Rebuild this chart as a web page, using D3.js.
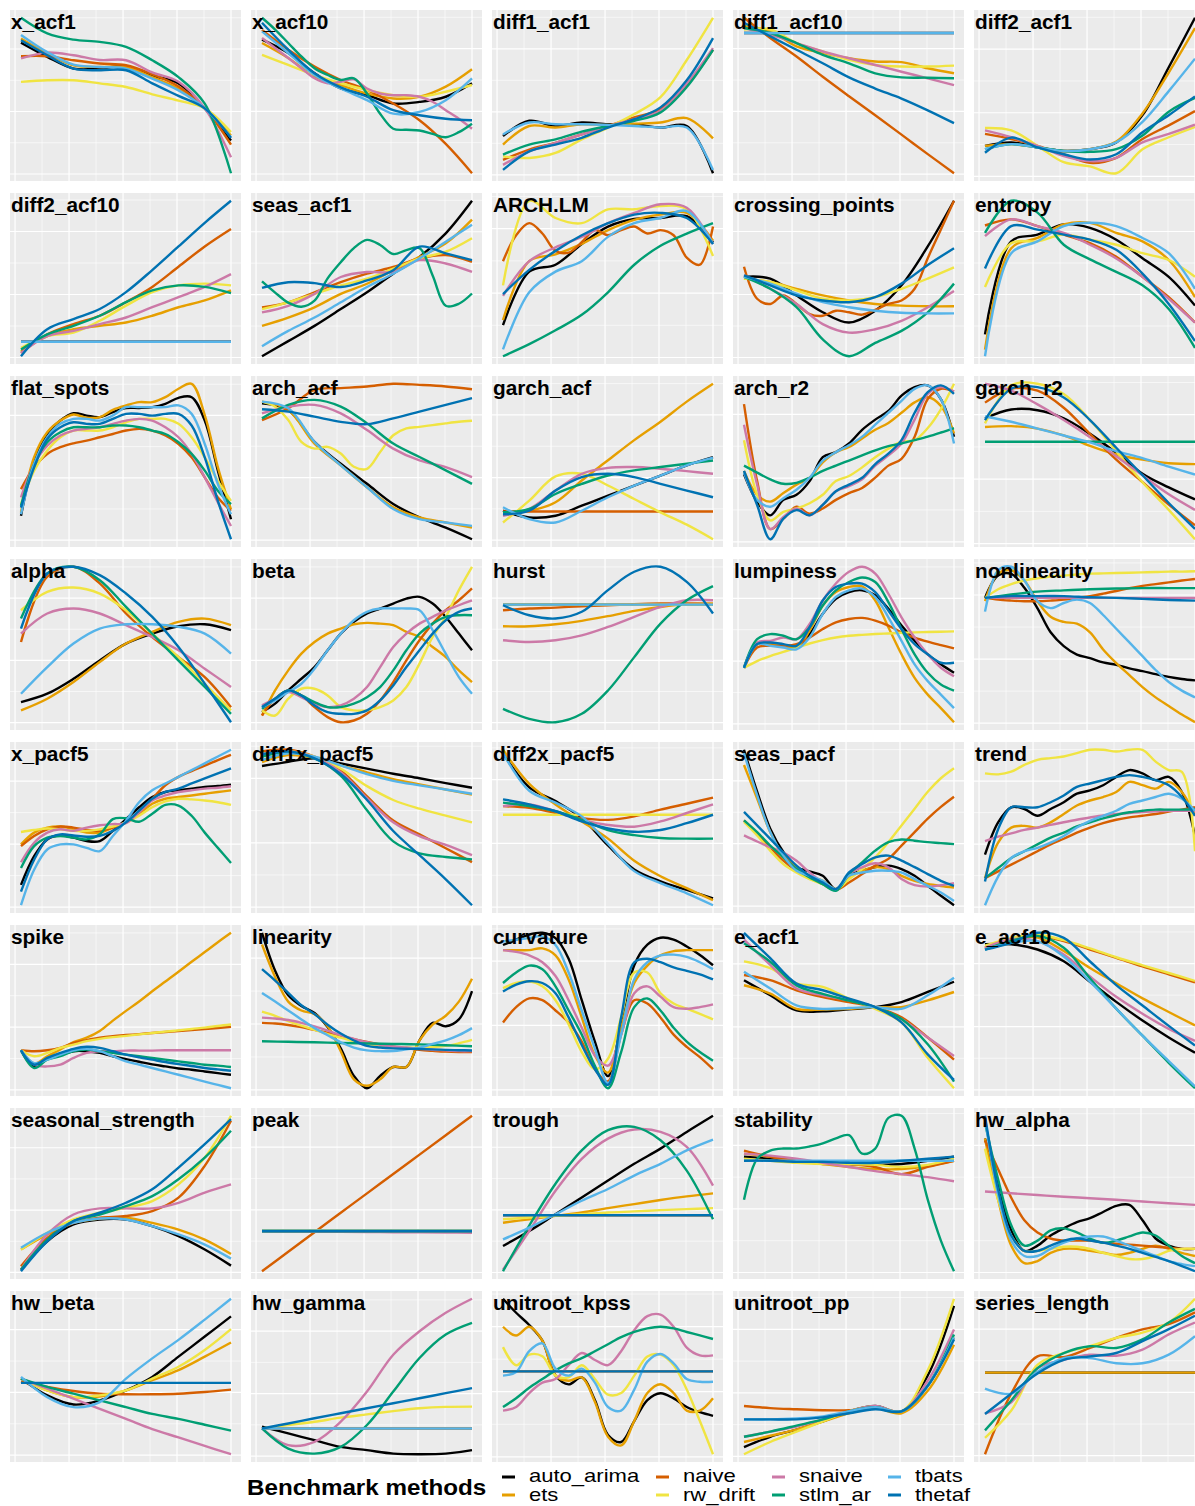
<!DOCTYPE html>
<html><head><meta charset="utf-8">
<script src="https://cdn.jsdelivr.net/npm/d3@7"></script>
<style>body{margin:0;background:#fff}svg{display:block}</style>
</head><body>
<script>
const methods = ["auto_arima","ets","naive","rw_drift","snaive","stlm_ar","tbats","thetaf"];
const colors = ["#000000","#E69F00","#D55E00","#F0E442","#CC79A7","#009E73","#56B4E9","#0072B2"];
const xTicks = [0,1,2,3,4,5,6,7,8];
const xStart = 0.22, xEnd = 8;

const x_acf1 = {
auto_arima:[84,75,67.5,67.5,69,63,58,42,21.4],
ets:[86.7,77,69.6,68.5,68.5,62,54.6,42,24.6],
naive:[75.4,75.4,72.8,70.7,69.6,63.8,56,42,18.8],
rw_drift:[59,60,60,58,55.7,51,47,42,26.8],
snaive:[74,77.7,76,73,72.8,65,59,42,10.7],
stlm_ar:[100,90,86,84.6,81.4,72.8,62,45,0.5],
tbats:[89,78,70,68.5,67.5,61,53.5,42,23.5],
thetaf:[85.6,76,67.5,66.4,66.4,58,50,42,23]};
const x_acf10 = {
auto_arima:[85.7,77.2,64.3,54.6,50.3,45,46,49.3,57.9],
ets:[83.6,74,62.2,56.7,51.4,48.2,49.3,55.8,66.9],
naive:[92,79.3,68.6,60,53.6,45,34.3,19.2,0.5],
rw_drift:[76,69.6,63.2,57.9,53.6,50.3,49.3,52.5,56.8],
snaive:[86.8,80.4,74,67.5,61.1,57.9,58.9,60.4,54.6,51.4,50.3,50.3,49.3,46.1,40.7,35.3,28.9],
stlm_ar:[99.7,92.2,83.6,75,67.5,63.2,60,61.1,51.4,38.5,28.9,28.2,27.8,25.6,23.5,26.7,32.1],
tbats:[91,77.2,63.2,54.6,47.1,38.5,39.6,47.1,61],
thetaf:[96.5,79.3,64.3,55.3,49.3,40.7,37.5,35.3,34.3]};
const diff1_acf1 = {
auto_arima:[24.6,34.3,31,33.2,32.1,32.1,30,31,1],
ets:[19.2,31,30,32.1,31.6,32.5,33.2,36,23.1],
naive:[9.5,16,20.3,25.7,31,36.4,41.8,56.8,79.3],
rw_drift:[11.7,10.7,13.9,22.5,30,38.5,49.3,72.9,99.7],
snaive:[6.3,14.9,20.3,25.7,31,35.3,40.7,57.9,80.4],
stlm_ar:[12.8,19.2,22.5,27.4,31,34.3,39.6,55.7,79.3],
tbats:[25.6,33.2,32.1,32.1,31.7,31,30,30,3.1],
thetaf:[3.1,14.9,19.2,23.5,30,35.3,42.8,60,86.8]};
const diff1_acf10 = {
auto_arima:[90,90,90,90,90,90,90,90,90],
ets:[94.3,91.1,81.5,77.2,73.9,71.8,71.4,67.5,64.3],
naive:[99.7,86.8,75,62.1,49.7,37.5,25.2,12.8,0.6],
rw_drift:[92.2,92.2,83.6,78.2,72.9,69.6,68.6,68.6,69.2],
snaive:[93.2,89,83.6,78.2,73.9,69.6,65.3,61.1,56.8],
stlm_ar:[93.2,90,83.6,76.1,70.7,64.3,61.7,61.5,61.1],
tbats:[90,90,90,90,90,90,90,90,90],
thetaf:[96.5,87.9,79.3,70.7,61.7,54.6,48.2,40.7,32.5]};
const diff2_acf1 = {
auto_arima:[19.2,21.4,18.2,16,17.1,21.4,38.5,68.6,99.7],
ets:[19.2,20.3,18.2,16,17.1,21.9,39.6,65.3,93.2],
naive:[26.7,23.5,19.2,13.9,8.5,11.7,23.5,32.1,41.1],
rw_drift:[30.4,28.9,19.2,8.9,6.3,2,17.1,24.6,31],
snaive:[28.9,24.6,19.2,12.8,9.6,11.7,21.4,26.7,32.5],
stlm_ar:[17.1,20.3,18.2,16,15.4,17.1,25.7,40.7,49.3],
tbats:[17.1,20.3,18.2,16,17.1,21.4,34.3,53.6,74],
thetaf:[14.9,24.4,18.2,13.9,10.6,13.9,27.8,38.5,50.3]};
const diff2_acf10 = {
auto_arima:[10,10,10,10,10,10,10,10,10],
ets:[4,13.6,17.9,20.1,22.2,26.5,31.9,36.2,42.6],
naive:[2.9,14.7,21.2,26.5,35.1,44.8,57.6,70.5,81.6],
rw_drift:[6.1,13.6,15.8,23.3,32.9,41.5,45.8,46.9,45.8],
snaive:[2.9,13.6,16.9,21.2,25.4,31.9,38.3,44.8,52.9],
stlm_ar:[5.1,14.7,20.1,26.5,35.1,42.6,45.8,44.8,40.9],
tbats:[10,10,10,10,10,10,10,10,10],
thetaf:[0.8,17.9,24.4,30.8,41.5,55.5,70.5,85.5,99.5]};
const seas_acf1 = {
auto_arima:[0.8,10.4,20.1,30.8,41.5,53.3,64,79,99.7],
ets:[20.1,25.4,31.9,40.5,46.9,55.5,64,72.6,87.7],
naive:[31.9,35.1,41.5,47.9,53.3,57.6,63,65.1,60.8],
rw_drift:[30.8,35.1,40.5,45.8,50.1,56.5,63,67.3,75.9],
snaive:[28.7,32.9,40.5,51.2,54.4,54.4,61.9,59.8,54.4],
stlm_ar:[48.4,41.3,34.9,32.3,36.2,50.3,60.6,69.6,74.8,71.6,65.8,68.3,69.6,52.2,32.9,34.2,40.7],
tbats:[7.2,16.9,25.4,35.1,44.8,53.3,63,73.7,84.5],
thetaf:[44.3,47.9,47.3,44.8,49,55.5,70.5,66.2,61.9]};
const ARCH_LM = {
auto_arima:[20.1,53.3,57.6,70.5,81.3,86,86.6,87.7,71.6],
ets:[23.3,59.8,64,70.5,79.1,85.5,88.7,89.8,72.6],
naive:[59.8,75.9,83.4,77,66.2,65.1,71.6,79.1,75.9,79.1,81.3,77,79.1,75.9,62,57.6,81.3],
rw_drift:[44.8,97.3,86.6,83.4,92,92,94.1,92,63],
snaive:[38.3,59.8,68.4,74.8,83.4,89.8,95.1,93,70.5],
stlm_ar:[0.8,8.3,16.9,26.5,40.5,57.6,69.4,76.9,83.4],
tbats:[5,40.5,53.3,59.8,74.9,83.4,86.6,90.9,70.5],
thetaf:[39.4,54.4,66.2,75.9,83.4,88.7,89.8,86.6,70.5]};
const crossing_points = {
auto_arima:[51.2,50.1,39.4,28.7,22.2,29.7,45.8,70.5,99.5],
ets:[50.1,47.9,43.6,39.4,36.2,34,32.9,32.5,32.5],
naive:[57.6,37.3,34,39.4,34,27.6,26.5,29.7,28.7,27.2,30.2,34,36.2,43.6,63,81.2,99.5],
rw_drift:[50.1,47.9,42.6,37.3,36.2,38.3,43.6,50.1,57.2],
snaive:[52.2,43.6,34,21.2,15.8,17.9,23.3,31.9,42.2],
stlm_ar:[51.2,43.6,31.9,11.5,0.8,9.3,16.9,28.7,46.9],
tbats:[51.2,46.9,40.5,35.1,31.9,29.7,28.4,28,28],
thetaf:[52.2,45.8,39.4,36.2,35.1,38.3,46.9,58.7,69.4]};
const entropy = {
auto_arima:[14.7,73.7,78,84.5,82.3,74.8,63,51.2,33],
ets:[5,69.4,75.9,84.5,85.5,79.1,73.7,61.9,38.3],
naive:[83.8,87.7,83.4,78,72.6,64,51.2,38.3,22.2],
rw_drift:[44.8,72.6,73.7,78,74.8,71.6,66.2,61.9,51.2],
snaive:[77,87.7,83.4,79.1,71.6,62.9,51.2,37.3,22.2],
stlm_ar:[79.1,99.5,92,71.6,62.3,54.4,45.8,30.8,6.1],
tbats:[0.8,66.2,73.7,83.4,85.5,83.4,75.9,66.2,43.6],
thetaf:[56.5,83.4,81.2,78,74.8,68.4,53.3,34,10.4]};
const flat_spots = {
auto_arima:[15.6,51,68.1,76.7,81.4,79.9,78.9,82.1,84.8,84.8,85.3,87.4,91.3,91.7,76.7,44.6,13.4],
ets:[17.8,53.2,69.2,76.7,80.6,78.5,78.9,83.6,86.4,88.5,88.5,91.7,97.1,100.3,80.2,46.7,19.7],
naive:[32.7,46.7,55.3,59.6,62.1,63.8,66,68.1,70.3,71.4,70.3,67.1,61.7,53.1,40.3,27.4,18.8],
rw_drift:[23.1,44.6,57.5,66,70.3,70.3,70.3,72.4,75.6,77.8,77.8,77.8,74.6,66,53.1,38.1,25.2],
snaive:[27.4,48.8,60.6,67.1,70.3,71.4,72.4,74.6,76.7,77.8,76.7,72.4,66,55.3,40.3,24.2,9.1],
stlm_ar:[22,48.8,62.8,69.2,72.4,72.4,72.4,73.5,73.5,72.4,70.3,68.1,62.8,55.3,44.6,31.7,23.1],
tbats:[16.6,48.8,66,74.6,77.8,77.8,76.7,80,85.3,85.3,85.3,85.3,86.4,81,61.7,36,16.6],
thetaf:[20.9,46.7,64.9,72.4,75.6,74.6,74.6,77.8,81,81,79.9,81,81,73.5,53.1,25.2,0.6]};
const arch_acf = {
auto_arima:[87.4,83.1,62.8,48.8,36,23.1,14.5,8,0.6],
ets:[88.5,83.1,61.7,47.8,33.8,21,14.5,11.3,8],
naive:[76.7,84.3,96,97.1,98.2,99.9,99.2,98.2,96.4],
rw_drift:[88.5,85.3,76.7,62.8,58.5,59.6,55.3,46.9,45.6,56.3,67,71.4,72.4,73.5,74.6,75.6,76.3],
snaive:[81,85.3,86.4,81,70.3,58.5,50.9,46.7,40.3],
stlm_ar:[77.8,86.4,89.6,85.3,74.6,61.7,53.1,44.6,36],
tbats:[88.5,84.2,62.8,47.8,33.8,19.9,13.4,11.3,9.1],
thetaf:[83.6,82.1,78.9,75.6,74.1,77.8,82.1,86.4,90.7]};
const garch_acf = {
auto_arima:[18.8,14.5,15.6,22,28.4,34.9,41.3,47.8,53.1],
ets:[17.8,18.8,24.2,38.1,51,63.9,75.7,88.5,99.9],
naive:[18.3,18.3,18.3,18.3,18.3,18.3,18.3,18.3,18.3],
rw_drift:[11.3,25.2,40.7,42.4,34.9,26.3,17.8,9.9,0.6],
snaive:[15.6,19.9,31.7,42.4,46.2,46.7,45.6,44.1,42.4],
stlm_ar:[17.8,19.9,29.5,35.9,41.3,44.6,46.7,48.8,50.9],
tbats:[21,13.4,11.3,18.8,27.4,34.9,41.3,47.8,52.7],
thetaf:[16.6,18.8,31.7,40.3,42.4,40.3,36,31.7,27.4]};
const arch_r2 = {
auto_arima:[42.4,25.2,16.6,26.3,29.5,38.1,53.1,56.3,61.7,70.3,76.7,82.1,91.7,97.1,98.2,89.6,65.9],
ets:[44.5,29.5,25.2,30.6,35.9,40.2,49.9,56.3,59.5,64.9,70.3,74.6,81,87.5,90.7,85.3,68.1],
naive:[86.4,38.1,8,14.5,22,17.7,20.9,26.3,30.6,33.8,40.3,47.8,52.1,66,89.6,96.1,94.3],
rw_drift:[63.8,29.5,13.4,18.8,20.9,24.2,29.5,38.1,41.3,46.7,53.1,58.5,62.8,63.8,71.4,83.2,99.2],
snaive:[73.5,35.9,8,15.6,20.9,16.6,23.1,31.7,34.9,39.2,47.8,54.2,61.7,76.7,92.8,97.1,94.3],
stlm_ar:[47.8,43.4,39.2,36.4,37,40.2,44.5,47.8,51,54.2,57.4,60,61.7,63.8,66,68.6,71.4],
tbats:[43.4,26.3,22,27.4,32.7,40.2,50.9,56.3,60.6,66,73.5,81,88.5,96,98.2,89.6,61.7],
thetaf:[44.5,23.1,1.6,14.5,19.9,16.6,23.1,31.7,35.9,40.2,48.8,55.3,63.8,81,93.9,98.2,92.8]};
const garch_r2 = {
auto_arima:[77.8,83.2,82.8,77.8,68.1,56.3,43.4,34.9,27.4],
ets:[72.4,72.9,71.4,67.1,60.6,55.3,52.1,49.9,49.3],
naive:[87.5,96.1,94.9,84.3,68.1,52.1,38.1,24.2,11.3],
rw_drift:[74.6,98.2,99.2,92.8,76.7,57.4,38.1,20.9,2.7],
snaive:[99.2,94.9,86.4,76.7,66,54.2,42.4,30.6,20.9],
stlm_ar:[63.2,63.2,63.2,63.2,63.2,63.2,63.2,63.2,63.2],
tbats:[78.9,75.6,71.4,67.1,62.8,57.4,53.1,47.8,42.8],
thetaf:[76.7,96.1,97.1,90.7,76.7,59.5,42.4,25.2,9.1]};
const alpha = {
auto_arima:[13.2,18.6,28.2,40,50.8,57.2,61.9,63.2,59.4],
ets:[7.9,15.4,26.1,39,50.8,58.3,64.7,66.8,62.6],
naive:[51.8,93.7,100.1,89.4,70.1,55,42.1,29.2,9.9],
rw_drift:[72.2,84,86.8,82.9,72.2,57.1,42.1,25,7.9],
snaive:[57.2,70.1,73.3,70.1,62.6,55,46.5,34.7,22.9],
stlm_ar:[66.9,95.8,100.1,91.5,74.3,57.1,39.9,22.9,5.7],
tbats:[18.6,35.7,50.8,60.4,63.2,63.2,61.5,57.2,44.3],
thetaf:[60.4,95.8,100.1,94.7,82.9,67.9,48.6,25,0.3]};
const beta = {
auto_arima:[6.8,12.2,20.7,28.2,35.7,46.5,57.2,64.7,70.1,73.3,76.5,79.7,80.8,76.5,67.9,57.2,46.5],
ets:[4.6,20.7,33.6,44.3,51.8,57.2,60.4,63.2,64.1,63.6,62.6,58.3,55,48.6,42.1,33.6,26.1],
naive:[4.6,15.4,20.7,17.5,10,3.6,0.3,1.4,5.7,14.3,26.1,40,52.9,63.6,72.2,78.6,86.2],
rw_drift:[7.9,4.6,15.4,21.8,21.8,17.5,10,7.9,7.9,10,14.3,22.9,37.9,55,67.9,85.1,100.1],
snaive:[11.1,15.4,19.7,16.4,12.2,10,11.1,15.4,22.9,35.7,48.6,57.2,63.6,67.9,72.2,75.4,78.6],
stlm_ar:[8.9,15.4,20.7,17.5,13.2,10,10,12.2,16.4,22.9,33.6,46.5,57.2,63.6,67.9,69,69],
tbats:[10,14.3,19.7,25,34.6,46.5,57.2,65.8,71.2,73.3,73.3,73.3,72.2,59.4,44.3,29.3,18.6],
thetaf:[10,15.4,20.7,17.5,11.1,6.8,5.7,5.7,7.9,14.3,23.9,35.7,46.5,57.2,65.8,71.2,73.3]};
const hurst = {
auto_arima:[75.8,75.8,75.8,75.8,75.8,75.8,75.8,75.8,75.8],
ets:[61.9,61.9,63.2,65.4,68.4,71.8,74.3,76.1,76.5],
naive:[72.2,73.3,73.9,74.8,75.4,76.1,76.5,76.5,76.1],
rw_drift:[75.8,75.8,75.8,75.8,75.8,75.8,75.8,75.8,75.8],
snaive:[52.9,51.8,52.9,56.1,61.5,67.9,74.3,78.6,78.6],
stlm_ar:[8.9,2.5,0.3,5.7,20.7,42.1,63.6,78.6,87.7],
tbats:[75.8,75.8,75.8,75.8,75.8,75.8,75.8,75.8,75.8],
thetaf:[75.4,69,66.9,71.2,85.1,96.9,100.1,90.4,70.1]};
const lumpiness = {
auto_arima:[35.7,50.8,50.8,49.7,48.6,57.2,70.1,79.7,84,85.1,81.9,73.3,62.6,53,44.3,37.9,32.5],
ets:[35.7,50.8,50.8,49.7,48.6,59.4,75.4,84,87.2,87.6,78.6,61.5,44.3,29.3,18.6,10,1],
naive:[35.7,48.6,49.7,49.7,50.8,55,60.4,64.7,66.8,67.5,65.8,62.6,58.3,55,52.4,50.2,48.1],
rw_drift:[35.7,40,43.2,45.8,48.6,51.2,53.3,55,56.1,56.7,57.2,57.6,58,58.3,58.5,58.7,58.9],
snaive:[35.7,51.8,52.9,55,53.9,63.6,78.6,89.4,96.9,100.1,95.8,82.9,67.9,55,44.3,35.7,30.3],
stlm_ar:[35.7,53.9,57.2,56.1,53.9,61.5,75.4,85.1,90.4,93.3,90.4,77.6,60.4,44.3,32.5,25,21.1],
tbats:[35.7,50.8,49.7,48.6,47.5,55,70.1,80.8,85.1,86.2,80.8,67.9,52.9,37.9,27.2,18.6,10],
thetaf:[35.7,50.8,51.8,50.8,49.7,61.5,78.6,87.2,89.4,89.4,84,72.2,60.4,50.8,44.3,38.9,38.9]};
const nonlinearity = {
auto_arima:[78.2,92.1,93.1,84.5,71.7,56.7,48.1,42.8,40.6,37.9,36.4,34.2,32.5,30.6,28.9,27.6,26.7],
ets:[76.1,93.3,95.4,89,76.1,66.4,63.2,62.1,56.7,46,37.5,30,22.5,16.1,10.7,5.4,0.6],
naive:[78.2,77.1,76.5,76.1,76.1,76.5,77.1,78.2,79.3,80.8,82.5,84.3,85.7,86.8,87.9,89,90],
rw_drift:[78.2,83.6,86.8,89,90.4,91.5,92.1,92.8,93.3,93.5,93.7,93.9,94.1,94.3,94.6,94.6,94.8],
snaive:[78.2,78.2,78.2,78.2,78.2,78.2,78.2,78.2,78.2],
stlm_ar:[78.2,80.3,82.1,82.9,83.6,84,84.3,84.3,84.3],
tbats:[69.6,95.4,97.6,89,76.1,71.8,75,77.1,75,67.5,58.9,50.4,41.8,33.2,25.7,20.3,16.1],
thetaf:[78.2,79.3,79.3,79.3,78.6,78.2,77.6,76.9,76.5]};
const x_pacf5 = {
auto_arima:[14.1,32.3,43,45.6,44.1,41.9,41.9,48.4,55.9,63.4,69.9,73.1,74.2,75.2,76.3,76.9,77.8],
ets:[39.8,47.3,50.5,51.2,49.4,47.3,47.3,50.5,53.8,59.1,65.6,68.8,69.9,70.9,72,73.1,74.1],
naive:[38.7,45.2,49.4,51.2,50.5,49,48.4,50.5,53.8,60.2,68.8,77.4,82.7,86.4,89.8,93.3,96.6],
rw_drift:[47.7,49,49.9,49.4,48.4,48.4,49.4,51.2,53.8,58.1,63.4,67.1,68.8,68.4,67.7,66.6,64.9],
snaive:[28.5,40.9,47.3,49.4,48.4,50.5,52,52.7,53.3,60.2,67.7,70.9,73.1,74.2,75.2,75.8,76.7],
stlm_ar:[24.8,38.7,44.1,45.2,44.1,43,46.2,55.9,56.4,54.2,59.3,64.9,64.5,58,47.3,37.6,28],
tbats:[1.2,23.7,36.6,39.8,39.8,37.6,35.5,45.2,54.8,66.6,74.2,78.5,82.7,87,91.3,95.6,99.9],
thetaf:[9.8,30.1,43,46.2,45.5,44.7,45.2,48.4,53.8,61.2,68.8,73.1,75.2,78.5,81.7,84.9,88.1]};
const diff1x_pacf5 = {
auto_arima:[87.7,90.3,92.5,89.3,86.1,82.9,80.1,77.1,74.2],
ets:[90.2,94.5,92.8,88.1,83.8,79.5,76.3,73.1,69.9],
naive:[96.7,97.8,93.5,85,68.8,53.8,45.2,36.6,28],
rw_drift:[93.5,96.7,93.5,86,75.2,66.6,61.2,56.9,52.7],
snaive:[94.6,96.7,93.1,83.9,67.7,52.7,44.1,38.7,32.3],
stlm_ar:[93.5,96.3,92.5,81.7,60.2,40.9,33.4,31.2,29.7],
tbats:[91.3,95.6,93.5,88.1,82.7,78.5,75.7,73.1,70.5],
thetaf:[95,96.7,92.5,82.7,66.6,47.3,32.3,17.3,1.2]};
const diff2x_pacf5 = {
auto_arima:[96.7,75.2,66.6,55.9,38.7,23.7,16.2,10.8,5.5],
ets:[98.8,77.4,64.5,53.8,43,29.1,19.4,11.9,4.4],
naive:[63.4,62.3,59.1,55.9,54.8,57,61.2,64.9,68.8],
rw_drift:[58,58,58,58,58,58,58,58,58],
snaive:[63.4,64.5,60.2,54.8,51.6,50.5,53.8,59.1,64.5],
stlm_ar:[65.6,63.4,60.2,54.8,48.4,45.2,43.4,43,43],
tbats:[96.7,73.1,65.6,57,39.8,22.6,15.1,8.7,1.2],
thetaf:[67.7,64.5,60.2,53.8,49.4,47.3,48.4,52.7,58]};
const seas_pacf = {
auto_arima:[99.9,73.1,49.5,34.6,24.9,22.2,19.4,10.9,19.4,22.6,24.9,25.9,23.7,19.4,13,6.6,0.6],
ets:[90.2,68.8,47.3,32.3,24.9,19.4,16.2,10.9,18.3,22.6,24.9,23.7,19.4,16.2,14.2,12.9,11.9],
naive:[54.8,46.2,37.6,29.1,22.6,18.3,14,10.4,15.1,20.5,25.9,30.2,38.7,47.3,55.9,63.4,69.9],
rw_drift:[53.8,45.2,35.5,26.9,21.5,17.2,14,10.4,17.2,23.7,31.2,40.9,51.6,62.3,73.1,81.7,88.1],
snaive:[45.2,41.3,37.6,34.3,29,21.5,15.1,10.4,20.5,24.8,27.4,24.8,17.3,13.4,12.5,13.4,14.7],
stlm_ar:[54.8,47.3,38.7,31.2,23.7,18.3,14,9.8,20.5,28,35.5,40.9,42.6,41.8,40.9,40.3,39.6],
tbats:[97.8,70.9,47.3,32.3,22.6,19.4,16.2,10.9,19.4,21.5,22.6,22.6,21.5,17.3,13,8.7,3.3],
thetaf:[60.2,51.6,43,34.3,25.9,19.4,15.1,10.9,21.5,26.9,31.2,32.3,29.1,24.9,20.5,16.2,13]};
const trend = {
auto_arima:[33.3,53.8,63.4,62.3,58,62.3,66.6,72,74.1,77.4,82.7,87,84.9,80.6,82.7,73.1,45.2],
ets:[18.4,40.9,50.5,51.6,50.5,53.8,59.1,64.5,67.7,69.9,73.1,79.5,77.4,75.2,79.5,73.1,58],
naive:[18.4,22.7,27,31.2,35.5,39.8,43.4,47.3,50.5,53.3,55.5,57,58,59.1,60.6,61.9,63.4],
rw_drift:[84.9,84.3,86,90.3,93.5,94.6,95.6,97.8,99.9,99.9,98.8,99.9,99.9,92.4,87,85.8,35.5],
snaive:[41.9,44.7,46.8,49,50.5,52.2,53.9,55.5,56.9,58.2,59.1,59.7,60.4,60.8,61.2,61.2,61.2],
stlm_ar:[18.4,24.8,31.2,35.5,39.8,44.1,47.3,51.2,53.8,56.3,58.5,60.2,61.2,61.9,61.9,61.9,62.3],
tbats:[1.2,19.4,31.2,35.5,37.6,40.9,45.2,50.5,54.8,58,61.2,65.5,67.7,69.9,72,68.8,61.2],
thetaf:[16.2,49.4,63.4,63.4,63.4,66.6,70.9,76.3,78.5,80.6,82.7,83.8,82.7,80.6,77.4,69.9,58]};
const spike = {
auto_arima:[25.2,14.9,20.3,22.4,24.6,24.6,23.5,21.4,19.6,17.9,16.2,14.9,13.6,12.8,11.7,10.6,9.6],
ets:[25.2,16.7,21.4,25.7,30.4,33.2,37.5,44.1,50.3,56.3,62.8,69,75.2,81.6,87.8,94.1,100.1],
naive:[25.2,24.6,25.2,26.7,29.9,31.7,33.2,34.2,34.9,35.5,36.2,36.8,37.5,38.1,38.8,39.4,40.1],
rw_drift:[25.2,21.4,23.5,26.7,28.8,31,32.5,33.6,34.4,35.3,36.2,37.1,37.9,38.8,39.6,40.7,41.6],
snaive:[25.2,16,14.9,16,20.3,23.5,24.6,24.6,25,25,25,25.2,25.2,25.2,25.2,25.2,25.2],
stlm_ar:[25.2,13.9,19.2,21.4,24.6,25.7,24.6,23.5,22.4,21.4,20.3,19.2,18.1,17.1,16,15.4,14.5],
tbats:[25.2,17,19.2,22.4,25.2,26.1,24.6,21.4,18.1,16,13.9,11.7,9.6,7.4,5.2,3.1,1],
thetaf:[25.2,16,20.3,23.5,26.1,27.4,26.7,24.6,22.4,20.7,19.2,17.7,16.4,15.2,13.9,13,12.1]};
const linearity = {
auto_arima:[95.4,72.4,57.4,51,46.7,38.1,25.2,8.5,1,8.5,13.9,13.9,30,40.7,38.6,42.8,60],
ets:[88.3,68.6,53.6,48.2,46,38.6,23.5,6.4,2.5,6.4,13.9,13.9,30,39.6,45,53.6,67.5],
naive:[40.7,40.3,39.4,38.1,36.4,34.7,32.7,30.8,29.1,27.6,26.3,25.2,24.3,23.7,23.2,23,23],
rw_drift:[47.5,45,41.8,39,36.4,33.9,31.7,29.5,27.9,26.7,26.1,25.7,25.7,26.1,26.7,28.3,30.4],
snaive:[43.9,43.3,42.4,40.7,38.6,36,33.2,31,28.9,27.4,26.3,25.7,25,24.4,24,23.5,23.5],
stlm_ar:[29.5,29.2,28.9,28.5,28.2,27.9,27.6,27.1,26.5],
tbats:[58.9,53.6,48.2,42.8,37.5,33.2,28.9,25.7,24,23.5,23.5,24.6,25.7,27.9,30,33.2,37.5],
thetaf:[73.3,66.4,58.9,51.4,46,39.6,34.2,30,26.7,25.7,25.2,25,24.8,24.6,24.3,24.1,23.9]};
const curvature = {
auto_arima:[90,93.3,96.5,97.6,94.3,81.5,55.7,30,8.5,40.7,77.4,90.2,94.5,93.4,89.1,83.8,77.4],
ets:[86.8,86.8,86.8,87.9,83.6,68.6,45,21.4,10.7,38.6,66.4,77.2,83.6,86.2,86.8,86.8,86.8],
naive:[41.8,51.4,56.8,55.7,49.3,41.8,30,12.8,5.3,34.3,55.7,53.6,45,34.3,26.7,20.3,12.8],
rw_drift:[63.2,66.4,67.5,64.3,55.7,40.7,23.5,12.8,19.3,45,72.9,72.9,60,53.6,50.4,47.2,43.8],
snaive:[86.8,85.7,83.6,79.3,70.7,55.7,38.6,21.4,15,34.3,60,64.3,57.9,51.4,50.4,51.4,53.1],
stlm_ar:[66.4,72.9,77.2,75,64.3,49.3,34.3,15,1,23.5,51.4,56.8,49.3,38.6,30,23.5,18.1],
tbats:[92.2,93.3,94.3,95.4,90,72.9,49.3,25.7,4.2,34.2,68.6,79.3,83.6,84,82.6,79.3,75],
thetaf:[61.1,65.4,67.5,66.4,60,45,27.9,12.8,3.1,45,79.3,81.5,79.3,76.1,73.9,71.8,68.6]};
const e_acf1 = {
auto_arima:[69.6,60,50.4,49.8,51.1,52.5,55.7,62.1,68.6],
ets:[66.4,61.1,51.4,51,51.4,52.5,52.5,56.8,62.1],
naive:[72.9,69.6,63.2,58.9,55.7,52.5,46,33.2,19.2],
rw_drift:[81.5,77.2,67.5,65.4,57.9,51.4,42.8,20.3,1],
snaive:[95.4,79.3,64.3,60,56.8,52.5,45,33.2,21.4],
stlm_ar:[93.1,81.3,66.3,60.9,56.6,52.5,45,28.9,5.2],
tbats:[75,64.3,53.6,51.4,51.9,52.5,51.4,60,71.2],
thetaf:[99.7,83.6,67.5,63.2,57.9,52.5,42.8,22.5,6.3]};
const e_acf10 = {
auto_arima:[92.2,92.2,88.9,81.4,68.5,55.7,43.9,33.2,23.5],
ets:[90,95.4,96.5,87.9,77.2,67.5,57.9,49.3,40.8],
naive:[90,95.4,97.5,94.3,88.9,83.6,78.2,73.2,68.1],
rw_drift:[91.3,96.1,98.2,94.8,89.6,84,78.9,74,69],
snaive:[90,95.4,94.2,85.7,71.8,58.9,48.2,38.6,31],
stlm_ar:[88.8,94.3,97.5,90,70.7,51.4,34.3,17.1,1],
tbats:[88.8,93.1,94.2,84.5,68.5,51.4,34.3,18.2,2.1],
thetaf:[88.8,93.1,99.5,96.3,81.3,66.3,53.4,40.5,28.1]};
const seasonal_strength = {
auto_arima:[1.8,20,30.8,34,34,29.7,23.3,14.7,4.4],
ets:[14.7,24.4,31.8,34.6,35.1,31.8,27.5,21.1,11.9],
naive:[4,22.2,31.8,35.1,36.2,39.4,48,68.4,97.3],
rw_drift:[14.7,25.5,34,38.3,41.5,45.8,56.5,73.7,100.5],
snaive:[1.8,24.4,37.2,41.1,41.1,41.1,44.7,51.2,56.5],
stlm_ar:[1.8,21.1,32.9,37.2,42.6,49,59.8,73.7,90.9],
tbats:[15.8,25.5,31.8,34.6,34,29.7,24.4,17.9,8.9],
thetaf:[0.8,20,32.9,38.3,44.7,53.3,67.3,82.3,98.4]};
const peak = {
auto_arima:[26.4,26.4,26.4,26.4,26.4,26.4,26.4,26.4,26.4],
ets:[26.8,26.8,26.8,26.8,26.8,26.8,26.8,26.8,26.8],
naive:[0.8,13.2,25.7,38.1,50.5,62.8,75.2,87.6,100],
rw_drift:[27,27,27,27,27,27,27,27,27],
snaive:[26.2,26.1,26,25.9,25.8,25.7,25.6,25.5,25.4],
stlm_ar:[26.3,26.3,26.3,26.3,26.3,26.3,26.3,26.3,26.3],
tbats:[26.6,26.6,26.6,26.6,26.6,26.6,26.6,26.6,26.6],
thetaf:[26.5,26.5,26.5,26.5,26.5,26.5,26.5,26.5,26.5]};
const trough = {
auto_arima:[16.9,26.5,37.2,47.9,58.7,69.4,79.1,89.8,100.1],
ets:[31.8,34,36.2,38.3,41.1,43.7,46.3,48.6,50.5],
naive:[36.6,36.6,36.6,36.6,36.6,36.6,36.6,36.6,36.6],
rw_drift:[34,35.1,36.2,37.2,38.3,39,39.8,40.5,41.1],
snaive:[1.8,26.5,52.2,72.6,85.5,91.3,89.8,80.2,55.5],
stlm_ar:[0.8,29.9,56.7,78,90.9,93,84.5,65.1,34],
tbats:[21.1,28.6,37.2,45.8,53.3,61.9,69.4,78,84.9],
thetaf:[36.6,36.6,36.6,36.6,36.6,36.6,36.6,36.6,36.6]};
const stability = {
auto_arima:[72.8,71.6,70.3,69,68.3,67.7,68.3,70.3,72.8],
ets:[74.8,72.8,70.3,68.3,66.4,65.1,65.1,67,70.3],
naive:[76.7,72.8,70.3,68.3,68.3,66.4,61.9,66.4,70.3],
rw_drift:[71.6,70.3,69,68.3,68.3,67.7,66.4,67.7,71.6],
snaive:[74.8,73.5,71.6,69,66.4,63.8,61.9,60,57.4],
stlm_ar:[45.8,71.6,76.7,78,78,79.3,81.2,84.4,86.4,74.8,78,97.3,98.6,78,45.8,20.1,0.8],
tbats:[70.3,70.3,70.3,70.3,70.3,70.3,70.3,70.3,70.3],
thetaf:[70.3,70.3,69.6,69.6,69,69,70.3,71.6,72.8]};
const hw_alpha = {
auto_arima:[84.4,55.4,26.5,13.6,16.9,23.3,27.8,31.7,34.2,38.1,42,42.6,32.9,21.4,16.9,14.9,14.9],
ets:[84.4,45.8,16.9,5.9,7.2,12.4,14.9,14.9,13.6,12.4,11.1,12.4,14.9,16.9,14.9,12.4,10.4],
naive:[83.1,65.1,47.1,32.9,25.2,21.4,20.1,20.1,20.1,18.8,18.1,17.5,16.9,16.2,15.6,14.9,14.9],
rw_drift:[78,45.8,23.3,13.6,13.6,14.9,16.2,16.2,14.9,12.4,10.4,8.5,8.5,10.4,13.6,14.9,14.9],
snaive:[51,49.9,48.8,47.7,46.8,45.8,44.7,43.6,42.6],
stlm_ar:[94.2,58.7,29.7,16.9,20.1,26.5,27.8,25.2,21.4,18.8,20.1,22.7,25.2,23.3,16.9,10.4,5.9],
tbats:[97.4,49,20.1,10.4,10.4,14.9,18.8,21.4,22.7,22.7,20.1,16.9,13.6,10.4,7.2,5.3,4],
thetaf:[98.7,52.3,23.3,13.6,13.6,16.9,20.1,21.4,20.1,18.8,16.9,14.9,12.4,9.8,7.2,4,0.8]};
const hw_beta = {
auto_arima:[48.8,38.1,32.3,34.9,41.3,49.9,62.8,75.6,88.5],
ets:[48.8,41.3,37,37.4,41.3,47.8,54.2,62.8,71.8],
naive:[46.7,43.5,40.9,39.2,38.8,38.8,39.2,40.3,41.8],
rw_drift:[48.8,41.3,37,38.1,41.3,48.8,56.4,67.1,80.4],
snaive:[48.8,42.4,36,29.5,23.1,16.6,11.3,5.9,0.6],
stlm_ar:[48.8,43.5,39.2,34.9,30.6,26.3,23.1,19.4,15.6],
tbats:[49.9,37,30.6,33.8,48.8,61.7,73.5,86.4,99.7],
thetaf:[46.1,46.1,46.1,46.1,46.1,46.1,46.1,46.1,46.1]};
const hw_gamma = {
auto_arima:[18.8,14.5,10.2,5.9,3.8,1.6,1.2,1.6,3.8],
ets:[17.7,17.7,17.7,17.7,17.7,17.7,17.7,17.7,17.7],
naive:[17.7,17.7,17.7,17.7,17.7,17.7,17.7,17.7,17.7],
rw_drift:[17.7,19.9,22,24.6,26.7,28.8,30.6,31.5,31.7],
snaive:[17.7,7,9.1,22,41.3,64.9,79.9,91.7,100.7],
stlm_ar:[17.7,4.8,1.6,5.9,19.9,41.3,62.8,77.8,85.3],
tbats:[17.7,17.7,17.7,17.7,17.7,17.7,17.7,17.7,17.7],
thetaf:[17.7,20.9,24.2,27.4,30.6,33.8,37,40.3,43.5]};
const unitroot_kpss = {
auto_arima:[97.1,88.5,81,71.4,49.9,44.5,48.8,34.9,13.4,9.1,22,34.9,39.1,35.9,30.6,27.4,25.2],
ets:[79.9,74.5,79.9,71.4,49.9,46.7,48.8,33.8,12.4,7,22,39.2,44.6,39.2,28.4,28.4,36],
naive:[52.5,52.5,52.5,52.5,52.5,52.5,52.5,52.5,52.5],
rw_drift:[67.4,56.3,62.8,61.8,50,48.8,56.3,47.8,38.2,39.2,49.9,61.7,62.8,56.3,41.3,22,1.6],
snaive:[28.4,30.6,39.2,45.6,47.8,56.3,63.8,59.5,56.3,64.9,77.8,86.4,87.4,79.9,67.1,62.3,62.3],
stlm_ar:[30.6,36,42.4,47.8,53.1,57.4,60.6,64.9,69.2,73.5,76.7,78.9,79.9,78.9,76.7,74.6,72.4],
tbats:[49.9,52.1,65,69.7,54.2,49.9,54.2,45.6,30.6,28.4,41.3,58.5,63.2,57.4,47.8,46.1,46.1],
thetaf:[52.5,52.5,52.5,52.5,52.5,52.5,52.5,52.5,52.5]};
const unitroot_pp = {
auto_arima:[5.9,12.4,16.9,22,28.4,31.7,28.4,51,94.7],
ets:[9.1,13,16.9,22,27.2,30.4,27.2,41.3,70.3],
naive:[31.7,30.4,29.7,29.1,29.1,30.4,28.4,44.5,74.8],
rw_drift:[1.4,9.1,15.6,22,28.4,31.6,28.4,54.2,99.2],
snaive:[12.4,15.6,18.8,23.3,28.4,31.7,28.4,47.6,79.9],
stlm_ar:[12.4,15.6,19.4,23.3,28.4,31,28.4,44.5,76.7],
tbats:[23.3,23.3,23.9,25.2,28.4,31,28.4,44.5,74.8],
thetaf:[23.3,23.3,23.3,24.6,27.2,29.7,28.4,44.5,73.6]};
const series_length = {
auto_arima:[52.5,52.5,52.5,52.5,52.5,52.5,52.5,52.5,52.5],
ets:[52.5,52.5,52.5,52.5,52.5,52.5,52.5,52.5,52.5],
naive:[0.9,39.2,62.8,62.3,68.1,74.5,79.9,83.2,90.6],
rw_drift:[11.3,28.5,57.4,64.9,69.2,74.5,77.8,84.2,99.2],
snaive:[26.7,33.8,55.3,60.6,63.8,63.2,67.1,76.7,84.2],
stlm_ar:[16,34.9,55.3,64.9,69.2,68.1,73.5,84.2,92.8],
tbats:[42.4,39.2,53.1,61.7,61.7,58.4,58.4,63.9,75.6],
thetaf:[26.3,39.2,52,60.6,62.8,64.9,72.4,80,88.5]};

const panels = [
["x_acf1",x_acf1],["x_acf10",x_acf10],["diff1_acf1",diff1_acf1],["diff1_acf10",diff1_acf10],["diff2_acf1",diff2_acf1],
["diff2_acf10",diff2_acf10],["seas_acf1",seas_acf1],["ARCH.LM",ARCH_LM],["crossing_points",crossing_points],["entropy",entropy],
["flat_spots",flat_spots],["arch_acf",arch_acf],["garch_acf",garch_acf],["arch_r2",arch_r2],["garch_r2",garch_r2],
["alpha",alpha],["beta",beta],["hurst",hurst],["lumpiness",lumpiness],["nonlinearity",nonlinearity],
["x_pacf5",x_pacf5],["diff1x_pacf5",diff1x_pacf5],["diff2x_pacf5",diff2x_pacf5],["seas_pacf",seas_pacf],["trend",trend],
["spike",spike],["linearity",linearity],["curvature",curvature],["e_acf1",e_acf1],["e_acf10",e_acf10],
["seasonal_strength",seasonal_strength],["peak",peak],["trough",trough],["stability",stability],["hw_alpha",hw_alpha],
["hw_beta",hw_beta],["hw_gamma",hw_gamma],["unitroot_kpss",unitroot_kpss],["unitroot_pp",unitroot_pp],["series_length",series_length]];

const W = 1195, H = 1506;
const svg = d3.select("body").append("svg").attr("width", W).attr("height", H);
svg.append("rect").attr("width", W).attr("height", H).attr("fill", "#fff");
const defs = svg.append("defs");
const font = "'Liberation Sans', Arial, Helvetica, sans-serif";

const pw = 231, ph = 171, pitchX = 241, pitchY = 183, ox = 10, oy = 10;

panels.forEach(([name, data], i) => {
  const col = i % 5, row = Math.floor(i / 5);
  const left = ox + col * pitchX, top = oy + row * pitchY;
  const g = svg.append("g");
  g.append("rect").attr("x", left).attr("y", top).attr("width", pw).attr("height", ph).attr("fill", "#EBEBEB");
  const cid = "clip" + i;
  defs.append("clipPath").attr("id", cid).append("rect").attr("x", left).attr("y", top).attr("width", pw).attr("height", ph);

  const xs = d3.scaleLinear().domain([xStart, xEnd]).range([left + 11, left + pw - 10]);
  const all = methods.flatMap(m => data[m]);
  const [mn, mx] = d3.extent(all);
  const pad = (mx - mn) * 0.05;
  const ys = d3.scaleLinear().domain([mn - pad, mx + pad]).range([top + ph, top]);

  const grid = g.append("g").attr("clip-path", `url(#${cid})`);
  const yt = ys.ticks(5);
  const step = yt.length > 1 ? yt[1] - yt[0] : 1;
  const yMinor = yt.filter(t => Math.abs(Math.round(t / step)) % 2 === 1);
  const yMajor = yt.filter(t => Math.abs(Math.round(t / step)) % 2 === 0);
  const xMinor = xTicks.filter(t => t % 2 === 1), xMajor = xTicks.filter(t => t % 2 === 0);
  grid.selectAll(".ymi").data(yMinor).join("line").attr("x1", left).attr("x2", left + pw)
    .attr("y1", d => ys(d)).attr("y2", d => ys(d)).attr("stroke", "#fff").attr("stroke-width", 0.6);
  grid.selectAll(".xmi").data(xMinor).join("line").attr("y1", top).attr("y2", top + ph)
    .attr("x1", d => xs(d)).attr("x2", d => xs(d)).attr("stroke", "#fff").attr("stroke-width", 0.6);
  grid.selectAll(".yma").data(yMajor).join("line").attr("x1", left).attr("x2", left + pw)
    .attr("y1", d => ys(d)).attr("y2", d => ys(d)).attr("stroke", "#fff").attr("stroke-width", 1.2);
  grid.selectAll(".xma").data(xMajor).join("line").attr("y1", top).attr("y2", top + ph)
    .attr("x1", d => xs(d)).attr("x2", d => xs(d)).attr("stroke", "#fff").attr("stroke-width", 1.2);

  const lg = g.append("g").attr("clip-path", `url(#${cid})`);
  methods.forEach((m, k) => {
    const arr = data[m];
    const n = arr.length;
    const line = d3.line()
      .x((d, j) => xs(xStart + j * (xEnd - xStart) / (n - 1)))
      .y(d => ys(d))
      .curve(d3.curveCatmullRom.alpha(0.5));
    lg.append("path").attr("d", line(arr)).attr("fill", "none")
      .attr("stroke", colors[k]).attr("stroke-width", 2.4).attr("stroke-linejoin", "round");
  });

  g.append("text").attr("x", left + 1).attr("y", top + 19).text(name)
    .attr("font-family", font).attr("font-weight", "bold").attr("font-size", 20.8).attr("fill", "#000");
});

// legend
const leg = svg.append("g");
leg.append("text").attr("transform", "translate(247,1495) scale(1.1,1)").text("Benchmark methods")
  .attr("font-family", font).attr("font-weight", "bold").attr("font-size", 22).attr("fill", "#000");
const keyX = [502, 656, 772, 888];
const keyY = [1477, 1495];
const labY = [1482, 1501];
methods.forEach((m, k) => {
  const c = Math.floor(k / 2), r = k % 2;
  leg.append("line").attr("x1", keyX[c]).attr("x2", keyX[c] + 13).attr("y1", keyY[r]).attr("y2", keyY[r])
    .attr("stroke", colors[k]).attr("stroke-width", 3);
  leg.append("text").attr("transform", `translate(${keyX[c] + 27},${labY[r]}) scale(1.16,1)`).text(m)
    .attr("font-family", font).attr("font-size", 19).attr("fill", "#000");
});
</script>
</body></html>
